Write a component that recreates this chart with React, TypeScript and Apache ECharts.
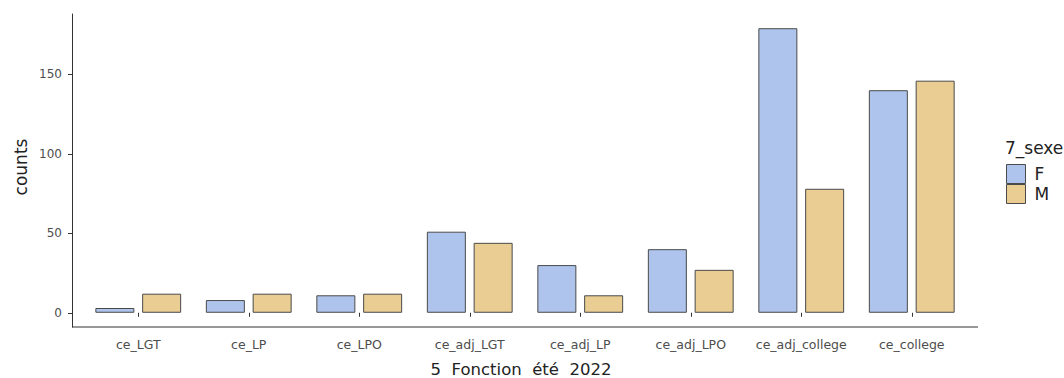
import React, { useEffect, useRef } from "react";
import * as echarts from "echarts";

const categories = ["ce_LGT", "ce_LP", "ce_LPO", "ce_adj_LGT", "ce_adj_LP", "ce_adj_LPO", "ce_adj_college", "ce_college"];
const valuesF = [3, 8, 11, 51, 30, 40, 179, 140];
const valuesM = [12, 12, 12, 44, 11, 27, 78, 146];
const yTicks = [0, 50, 100, 150];

const FONT = "DejaVu Sans, Liberation Sans, Arial, sans-serif";

export default function App() {
  const ref = useRef<HTMLDivElement>(null);
  useEffect(() => {
    if (!ref.current) return;
    const chart = echarts.init(ref.current, undefined, { renderer: "svg" });
    const bar = (name: string, data: number[], color: string) => ({
      name,
      type: "bar",
      data,
      barWidth: 39,
      barGap: "20%",
      itemStyle: { color, borderColor: "#4a4a4a", borderWidth: 1 },
    });
    chart.setOption({
      animation: false,
      textStyle: { fontFamily: FONT },
      grid: { left: 83, right: 97, top: 14, bottom: 51, containLabel: false },
      xAxis: {
        type: "category",
        data: categories,
        axisLine: { show: false },
        axisTick: { show: true, interval: 0, alignWithLabel: true, length: 4, lineStyle: { color: "#333" } },
        axisLabel: { color: "#4d4d4d", fontSize: 12.5, margin: 11, interval: 0, hideOverlap: false, fontFamily: FONT },
      },
      yAxis: {
        type: "value",
        min: -8.95,
        max: 187.95,
        offset: 11,
        axisLine: { show: true, lineStyle: { color: "#333", width: 1 } },
        axisTick: { show: true, length: 4, lineStyle: { color: "#333" }, customValues: yTicks },
        axisLabel: { color: "#4d4d4d", fontSize: 12, margin: 10, fontFamily: FONT, customValues: yTicks },
        splitLine: { show: false },
      },
      legend: {
        orient: "vertical",
        left: 1006,
        top: 164,
        itemWidth: 19,
        itemHeight: 19,
        itemGap: 0,
        icon: "rect",
        itemStyle: { borderWidth: 1, borderColor: "#4a4a4a" },
        textStyle: { fontSize: 17, lineHeight: 19, color: "#222", fontFamily: FONT, padding: [0, 0, 0, 4] },
        padding: 0,
        data: ["F", "M"],
      },
      graphic: [
        { type: "line", shape: { x1: 72, y1: 327, x2: 978, y2: 327 }, style: { stroke: "#333", lineWidth: 1 } },
        {
          type: "text",
          x: 21,
          y: 167,
          rotation: Math.PI / 2,
          style: { text: "counts", fontSize: 17, fill: "#222", fontFamily: FONT, align: "center", verticalAlign: "middle" },
        },
        {
          type: "text",
          x: 521,
          y: 369,
          style: { text: "5  Fonction  été  2022", fontSize: 16.5, fill: "#222", fontFamily: FONT, align: "center", verticalAlign: "middle" },
        },
        {
          type: "text",
          x: 1005,
          y: 148,
          style: { text: "7_sexe", fontSize: 17, fill: "#222", fontFamily: FONT, align: "left", verticalAlign: "middle" },
        },
      ],
      series: [bar("F", valuesF, "#aec4ec"), bar("M", valuesM, "#e9cd92")],
    });
    return () => chart.dispose();
  }, []);
  return <div ref={ref} style={{ width: 1064, height: 378, position: "absolute", left: 0, top: 0 }} />;
}
